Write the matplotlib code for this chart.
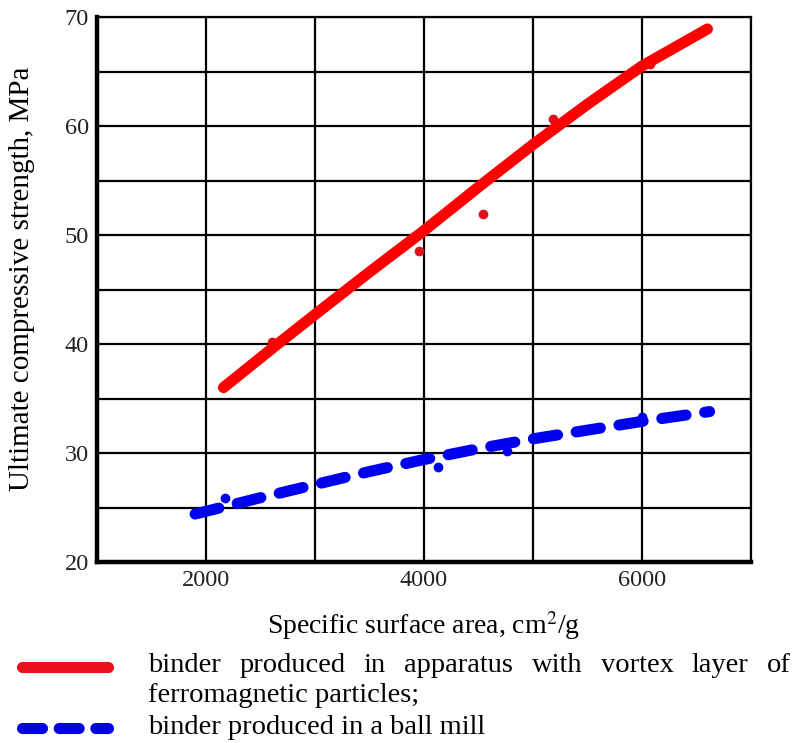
import matplotlib
matplotlib.use('Agg')
import matplotlib.pyplot as plt
from matplotlib.ticker import MultipleLocator, FixedLocator

plt.rcParams['font.family'] = ['Liberation Serif', 'DejaVu Serif']
plt.rcParams['mathtext.fontset'] = 'stix'

# кривая 1 - аппарат вихревого слоя
vortex_x = [2160, 2620, 3000, 3500, 4000, 4500, 5000, 5500, 6000, 6600]
vortex_y = [36.0, 39.7, 42.7, 46.6, 50.4, 54.4, 58.3, 62.0, 65.5, 68.9]
vortex_pts_x = [2610, 3950, 4540, 5180, 6070]
vortex_pts_y = [40.2, 48.5, 51.9, 60.6, 65.7]

# кривая 2 - шаровая мельница
mill_x = [1900, 2500, 3000, 3500, 4000, 4500, 5000, 5500, 6000, 6620]
mill_y = [24.4, 25.9, 27.1, 28.3, 29.4, 30.4, 31.3, 32.1, 32.9, 33.8]
mill_pts_x = [2170, 4130, 4760, 6000]
mill_pts_y = [25.9, 28.7, 30.2, 33.3]

x_ticks = [2000, 4000, 6000]
y_ticks = [20, 30, 40, 50, 60, 70]

legend_line1 = ['binder', 'produced', 'in', 'apparatus', 'with', 'vortex', 'layer', 'of']
legend_line2 = 'ferromagnetic particles;'
legend_line3 = 'binder produced in a ball mill'

W, H = 796, 743
fig = plt.figure(figsize=(W / 100, H / 100), dpi=100)
ax = fig.add_axes([97 / W, 1 - 562 / H, (751 - 97) / W, (562 - 17) / H])

red = '#ff0000'
blue = '#0000f0'
lw = 8

ax.plot(vortex_x, vortex_y, color=red, lw=lw, solid_capstyle='round',
        solid_joinstyle='round', zorder=4)
ax.plot(vortex_pts_x, vortex_pts_y, 'o', color='#e0101a', ms=6, zorder=3)
ax.plot(mill_x, mill_y, color=blue, lw=lw, dashes=(2.2, 1.7), dash_capstyle='round',
        dash_joinstyle='round', zorder=4)
ax.plot(mill_pts_x, mill_pts_y, 'o', color=blue, ms=6, zorder=3)

ax.set_xlim(1000, 7000)
ax.set_ylim(20, 70)
ax.xaxis.set_major_locator(FixedLocator(x_ticks))
ax.xaxis.set_minor_locator(MultipleLocator(1000))
ax.yaxis.set_major_locator(FixedLocator(y_ticks))
ax.yaxis.set_minor_locator(MultipleLocator(5))
ax.grid(True, which='both', color='black', lw=1.6, zorder=1)
ax.set_axisbelow(True)
ax.tick_params(which='both', length=0, labelsize=17.5, pad=6, colors='#222222')

for side in ['top', 'right']:
    ax.spines[side].set_linewidth(1.6)
for side in ['left', 'bottom']:
    ax.spines[side].set_linewidth(3.2)

ax.set_ylabel('Ultimate compressive strength, MPa', fontsize=21, labelpad=12)
ax.yaxis.set_label_coords(-0.095, 0.52)
ax.set_xlabel('Specific surface area, cm$^2$/g', fontsize=20, labelpad=13)

# условные обозначения внизу
fs = 20.5
fig.add_artist(plt.Line2D([22 / W, 108 / W], [1 - 667 / H] * 2, color='#e8101a', lw=lw,
                          solid_capstyle='round'))
fig.add_artist(plt.Line2D([22 / W, 108 / W], [1 - 728 / H] * 2, color='#0000e0', lw=lw,
                          dashes=(1.8, 1.5), dash_capstyle='round'))

renderer = fig.canvas.get_renderer()
x0, x1 = 148, 791
words = [fig.text(0, 1 - 666 / H, w, fontsize=fs, va='center') for w in legend_line1]
widths = [t.get_window_extent(renderer).width for t in words]
gap = (x1 - x0 - sum(widths)) / (len(words) - 1)
pos = x0
for t, wd in zip(words, widths):
    t.set_x(pos / W)
    pos += wd + gap
fig.text(x0 / W, 1 - 695 / H, legend_line2, fontsize=fs, va='center')
fig.text(x0 / W, 1 - 727 / H, legend_line3, fontsize=fs, va='center')

fig.savefig('out.png', dpi=100)
